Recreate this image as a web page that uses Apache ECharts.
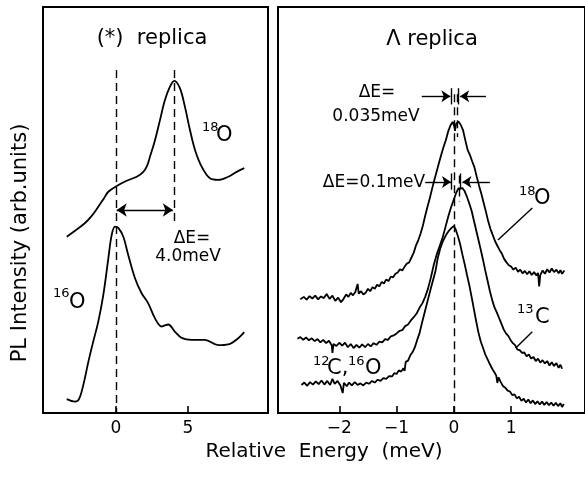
<!DOCTYPE html>
<html lang="en">
<head>
<meta charset="UTF-8">
<title>PL replica</title>
<script src="https://cdn.jsdelivr.net/npm/echarts@6/dist/echarts.min.js"></script>
<style>
    html, body { margin: 0; padding: 0; background: #fff; }
    #main { width: 585px; height: 480px; }
</style>
</head>
<body>
<div id="main"></div>
<script>
// tick labels
var leftTicks = [0, 5];
var rightTicks = [-2, -1, 0, 1];

// (*) replica, smooth curves [energy meV, intensity]
var starO18 = [[-3.42,43.4],[-2.8,45.0],[-2.15,46.8],[-1.7,48.5],[-1.23,50.8],[-0.85,52.8],[-0.53,54.5],[0.05,55.9],[0.74,57.2],[1.44,58.2],[1.90,59.4],[2.15,60.8],[2.36,63.1],[2.71,67.2],[3.06,72.2],[3.40,77.1],[3.75,80.4],[4.05,81.8],[4.44,80.0],[4.79,75.4],[5.14,69.7],[5.49,64.8],[5.95,60.7],[6.53,57.8],[7.10,57.4],[7.80,58.2],[8.38,59.4],[8.91,60.3]];
var starO16 = [[-3.42,3.4],[-2.85,2.8],[-2.57,3.4],[-2.27,6.9],[-1.92,12.6],[-1.58,17.6],[-1.23,22.5],[-0.88,29.1],[-0.53,38.1],[-0.30,43.8],[-0.07,45.9],[0.16,45.6],[0.51,43.4],[0.85,38.9],[1.32,33.2],[1.78,29.5],[2.24,27.0],[2.71,23.3],[3.17,21.3],[3.40,21.6],[3.63,21.8],[4.10,20.0],[4.56,18.5],[5.26,18.0],[6.18,18.0],[7.10,16.7],[7.80,16.9],[8.49,18.4],[8.91,19.9]];

// Lambda replica, noisy spectra
var lamO18 = [[-2.68,28.0],[-2.62,28.6],[-2.57,27.9],[-2.52,28.8],[-2.47,28.2],[-2.42,28.9],[-2.37,28.0],[-2.32,28.7],[-2.27,28.3],[-2.22,29.3],[-2.17,28.1],[-2.12,28.9],[-2.07,27.6],[-2.02,28.4],[-1.97,27.3],[-1.93,28.0],[-1.88,29.2],[-1.84,28.6],[-1.80,29.6],[-1.76,29.0],[-1.72,29.8],[-1.69,29.4],[-1.68,31.8],[-1.66,29.4],[-1.62,30.0],[-1.58,29.2],[-1.54,29.6],[-1.50,30.6],[-1.46,30.0],[-1.42,31.0],[-1.38,30.6],[-1.34,31.6],[-1.30,31.2],[-1.26,32.3],[-1.22,31.9],[-1.18,32.9],[-1.14,32.5],[-1.10,33.6],[-1.06,33.4],[-1.02,34.3],[-0.98,34.6],[-0.94,35.4],[-0.90,35.1],[-0.86,36.0],[-0.82,36.8],[-0.78,37.1],[-0.74,38.3],[-0.70,39.5],[-0.66,41.3],[-0.62,42.6],[-0.58,44.2],[-0.54,46.2],[-0.50,48.6],[-0.46,50.8],[-0.42,52.9],[-0.38,55.2],[-0.34,57.4],[-0.30,59.5],[-0.26,61.6],[-0.22,63.6],[-0.18,65.5],[-0.14,67.2],[-0.10,69.3],[-0.06,70.8],[-0.02,71.7],[0.01,70.6],[0.02,69.5],[0.04,71.2],[0.08,71.8],[0.12,71.0],[0.16,69.7],[0.20,67.2],[0.24,64.8],[0.28,63.6],[0.32,62.0],[0.36,60.5],[0.40,58.2],[0.44,56.0],[0.48,54.0],[0.52,51.8],[0.56,49.6],[0.60,47.2],[0.64,45.3],[0.68,43.8],[0.72,42.3],[0.76,41.2],[0.80,40.1],[0.84,39.2],[0.88,37.9],[0.92,37.1],[0.96,36.4],[1.00,36.1],[1.04,35.3],[1.08,35.8],[1.12,34.8],[1.16,35.3],[1.20,34.4],[1.24,35.0],[1.28,34.2],[1.32,34.9],[1.36,34.0],[1.40,34.7],[1.44,33.9],[1.47,34.5],[1.49,31.2],[1.51,34.0],[1.55,35.1],[1.59,34.3],[1.63,35.4],[1.67,34.6],[1.71,35.6],[1.75,34.7],[1.79,35.3],[1.83,34.4],[1.86,35.2],[1.89,34.3],[1.93,35.1]];
var lamC13 = [[-2.73,18.3],[-2.68,18.7],[-2.63,18.0],[-2.58,18.6],[-2.53,17.9],[-2.48,18.4],[-2.43,17.7],[-2.38,18.2],[-2.33,17.4],[-2.28,18.0],[-2.23,17.2],[-2.18,17.8],[-2.13,16.6],[-2.12,14.8],[-2.10,17.0],[-2.05,16.5],[-2.00,17.3],[-1.95,16.6],[-1.90,17.3],[-1.85,16.2],[-1.80,17.0],[-1.75,16.0],[-1.70,16.8],[-1.65,16.1],[-1.60,16.9],[-1.55,16.2],[-1.50,17.0],[-1.45,16.4],[-1.40,17.2],[-1.35,16.8],[-1.30,17.6],[-1.25,17.4],[-1.20,18.2],[-1.15,18.0],[-1.10,18.9],[-1.05,19.1],[-1.00,19.6],[-0.95,20.2],[-0.90,20.4],[-0.85,21.4],[-0.80,21.8],[-0.75,22.8],[-0.70,23.6],[-0.65,24.5],[-0.60,25.9],[-0.55,27.0],[-0.50,28.6],[-0.45,30.7],[-0.40,33.4],[-0.35,36.5],[-0.30,39.0],[-0.25,41.0],[-0.20,43.0],[-0.15,45.6],[-0.10,48.3],[-0.05,50.6],[0.00,52.6],[0.04,54.2],[0.08,55.3],[0.11,55.7],[0.15,55.4],[0.19,54.6],[0.23,53.2],[0.27,51.6],[0.31,49.8],[0.35,47.4],[0.39,45.0],[0.43,42.6],[0.47,40.2],[0.51,37.7],[0.55,35.0],[0.59,32.5],[0.63,30.0],[0.67,27.8],[0.71,26.0],[0.75,24.8],[0.79,23.4],[0.83,22.0],[0.87,20.6],[0.91,19.6],[0.95,19.0],[0.99,18.0],[1.03,17.2],[1.07,16.7],[1.11,15.6],[1.15,15.5],[1.19,14.8],[1.23,14.9],[1.27,14.0],[1.31,14.4],[1.35,13.4],[1.39,13.8],[1.43,12.8],[1.47,13.4],[1.51,12.4],[1.55,13.0],[1.59,12.2],[1.63,12.8],[1.67,11.7],[1.71,12.5],[1.75,11.6],[1.79,12.3],[1.83,11.1],[1.86,11.9],[1.89,10.9]];
var lamC12 = [[-2.66,6.9],[-2.61,7.5],[-2.56,6.7],[-2.51,7.6],[-2.46,7.0],[-2.41,7.8],[-2.36,7.1],[-2.31,8.0],[-2.26,7.0],[-2.21,7.9],[-2.16,6.9],[-2.12,8.4],[-2.08,7.2],[-2.03,7.9],[-1.98,6.8],[-1.94,4.9],[-1.92,7.4],[-1.87,6.6],[-1.83,7.5],[-1.78,6.8],[-1.73,7.6],[-1.68,6.9],[-1.63,7.3],[-1.58,6.8],[-1.53,7.5],[-1.48,7.2],[-1.43,7.9],[-1.38,7.5],[-1.33,8.2],[-1.28,7.9],[-1.23,8.6],[-1.18,8.4],[-1.13,9.1],[-1.08,9.0],[-1.04,9.8],[-1.00,9.6],[-0.96,10.5],[-0.92,10.2],[-0.88,11.0],[-0.86,10.4],[-0.84,12.6],[-0.80,12.9],[-0.76,14.2],[-0.72,15.0],[-0.68,16.2],[-0.64,18.0],[-0.60,19.6],[-0.56,22.0],[-0.52,24.2],[-0.48,26.4],[-0.44,28.6],[-0.40,30.8],[-0.36,32.9],[-0.32,35.0],[-0.28,38.2],[-0.24,40.4],[-0.20,42.0],[-0.16,43.2],[-0.12,44.2],[-0.08,45.0],[-0.04,45.6],[0.00,46.1],[0.03,45.3],[0.07,43.6],[0.11,41.6],[0.15,39.0],[0.19,36.6],[0.23,34.0],[0.27,31.5],[0.31,28.6],[0.35,25.6],[0.39,22.6],[0.43,19.8],[0.47,17.6],[0.51,16.0],[0.55,14.4],[0.59,13.2],[0.63,12.0],[0.67,10.9],[0.71,10.0],[0.74,9.2],[0.76,7.4],[0.78,8.8],[0.82,7.6],[0.86,6.6],[0.90,6.2],[0.94,5.5],[0.98,5.3],[1.02,4.4],[1.06,4.6],[1.10,3.6],[1.14,4.0],[1.18,3.0],[1.22,3.5],[1.26,2.6],[1.30,3.3],[1.34,2.4],[1.38,3.1],[1.42,2.2],[1.46,2.9],[1.50,2.1],[1.54,2.8],[1.58,2.0],[1.62,2.7],[1.66,1.9],[1.70,2.6],[1.74,1.8],[1.78,2.5],[1.82,1.7],[1.86,2.4],[1.89,1.5],[1.92,2.2]];

var FONT = '"DejaVu Sans", sans-serif';
var BLACK = '#000';

function seg(a, b, extra) {
    var p = { coord: a }, q = { coord: b };
    if (extra) { for (var k in extra) { p[k] = extra[k]; q[k] = extra[k]; } }
    return [p, q];
}

function txt(x, y, s, size, align) {
    return {
        type: 'text', x: x, y: y, silent: true,
        style: { text: s, fill: BLACK, font: size + 'px ' + FONT, textAlign: align || 'left', textVerticalAlign: 'middle' }
    };
}

function xAxisCfg(idx, min, max, ticks, minus) {
    return {
        type: 'value', gridIndex: idx, min: min, max: max,
        axisLine: { show: true, lineStyle: { color: BLACK, width: 2 } },
        axisTick: { show: true, inside: true, length: 7, customValues: ticks, lineStyle: { color: BLACK, width: 1.6 } },
        axisLabel: {
            customValues: ticks, color: BLACK, fontSize: 17, fontFamily: FONT, margin: 7,
            formatter: function (v) { return minus ? String(v).replace('-', '\u2212') : String(v); }
        },
        splitLine: { show: false }
    };
}

function yAxisCfg(idx) {
    return { type: 'value', gridIndex: idx, min: 0, max: 100, show: false };
}

var dashed = { type: [8, 5], color: BLACK, width: 1.4 };
var solid = { type: 'solid', color: BLACK, width: 1.4 };

var myChart = echarts.init(document.getElementById('main'));
var option = {
    animation: false,
    backgroundColor: '#fff',
    grid: [
        { left: 43, top: 7, width: 225, height: 406, show: true, borderColor: BLACK, borderWidth: 2 },
        { left: 278, top: 7, right: -3, height: 406, show: true, borderColor: BLACK, borderWidth: 2 }
    ],
    xAxis: [
        xAxisCfg(0, -5.07, 10.56, leftTicks, false),
        xAxisCfg(1, -3.07, 2.29, rightTicks, true)
    ],
    yAxis: [yAxisCfg(0), yAxisCfg(1)],
    series: [
        {
            type: 'line', xAxisIndex: 0, yAxisIndex: 0, data: starO18, smooth: 0.35, showSymbol: false,
            lineStyle: { color: BLACK, width: 1.8 },
            markLine: {
                silent: true, symbol: 'none', label: { show: false }, lineStyle: dashed,
                data: [seg([0, 84.5], [0, 0]), seg([4.05, 84.5], [4.05, 47])]
            }
        },
        {
            type: 'line', xAxisIndex: 0, yAxisIndex: 0, data: starO16, smooth: 0.35, showSymbol: false,
            lineStyle: { color: BLACK, width: 1.8 },
            markLine: {
                silent: true, symbol: ['arrow', 'arrow'], symbolSize: 10, label: { show: false },
                lineStyle: solid,
                data: [seg([0.05, 50], [3.95, 50])]
            }
        },
        {
            type: 'line', xAxisIndex: 1, yAxisIndex: 1, data: lamO18, showSymbol: false,
            lineStyle: { color: BLACK, width: 1.8 },
            markLine: {
                silent: true, symbol: 'none', label: { show: false }, lineStyle: dashed,
                data: [seg([0, 78.5], [0, 0]), seg([0.06, 78.5], [0.06, 68]), seg([0.1, 58.5], [0.1, 52])]
            }
        },
        {
            type: 'line', xAxisIndex: 1, yAxisIndex: 1, data: lamC13, showSymbol: false,
            lineStyle: { color: BLACK, width: 1.8 },
            markLine: {
                silent: true, symbol: ['none', 'arrow'], symbolSize: 9, label: { show: false },
                lineStyle: solid,
                data: [
                    seg([-0.56, 78], [-0.06, 78]), seg([0.56, 78], [0.11, 78]),
                    seg([-0.5, 56.9], [-0.05, 56.9]), seg([0.63, 56.9], [0.15, 56.9])
                ]
            }
        },
        {
            type: 'line', xAxisIndex: 1, yAxisIndex: 1, data: lamC12, showSymbol: false,
            lineStyle: { color: BLACK, width: 1.8 },
            markLine: {
                silent: true, symbol: 'none', label: { show: false }, lineStyle: solid,
                data: [
                    seg([1.37, 50.5], [0.77, 42.6]),
                    seg([1.37, 20.0], [1.08, 16.0]),
                    seg([-0.05, 80], [-0.05, 76]), seg([0.08, 80], [0.08, 76]),
                    seg([-0.05, 59], [-0.05, 55]), seg([0.12, 59], [0.12, 55])
                ]
            }
        }
    ],
    graphic: [
        txt(152, 39, '(*)  replica', 21, 'center'),
        txt(432, 40, '\u039b replica', 21, 'center'),
        txt(324, 452, 'Relative  Energy  (meV)', 20, 'center'),
        {
            type: 'text', x: 21, y: 243, rotation: Math.PI / 2, silent: true,
            style: { text: 'PL Intensity (arb.units)', fill: BLACK, font: '21px ' + FONT, textAlign: 'center', textVerticalAlign: 'middle' }
        },
        // left panel labels
        txt(202, 128, '18', 13), txt(216, 136, 'O', 21),
        txt(53, 294, '16', 13), txt(69, 303, 'O', 21),
        txt(192, 239, '\u0394E=', 17, 'center'),
        txt(188, 257, '4.0meV', 17, 'center'),
        // right panel labels
        txt(377, 93, '\u0394E=', 17, 'center'),
        txt(376, 117, '0.035meV', 17, 'center'),
        txt(374, 183, '\u0394E=0.1meV', 17, 'center'),
        txt(519, 192, '18', 13), txt(534, 199, 'O', 21),
        txt(517, 310, '13', 13), txt(535, 318, 'C', 21),
        txt(313, 362, '12', 13), txt(327, 369, 'C,', 21),
        txt(348, 362, '16', 13), txt(365, 369, 'O', 21)
    ]
};
myChart.setOption(option);
</script>
</body>
</html>
